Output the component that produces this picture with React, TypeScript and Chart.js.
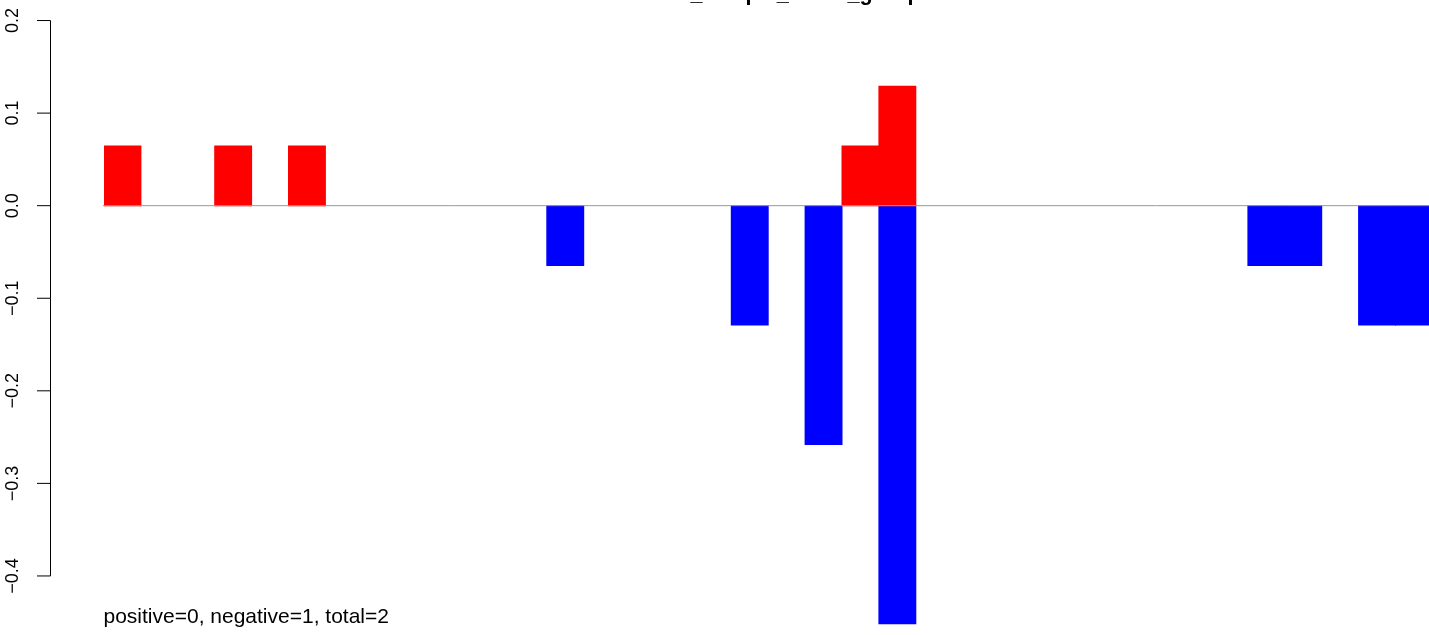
import React, { useEffect, useRef } from "react";
import { Chart, registerables } from "chart.js";

Chart.register(...registerables);

const categories = [
  "1", "2", "3", "4", "5", "6", "7", "8", "9", "10",
  "11", "12", "13", "14", "15", "16", "17", "18", "19", "20",
  "21", "22", "23", "24", "25", "26", "27", "28", "29", "30",
  "31", "32", "33", "34", "35", "36", "37", "38",
];

// null = no bar (value 0)
const positiveValues = [
  0.0645, null, null, 0.0645, null, 0.0645, null, null, null, null,
  null, null, null, null, null, null, null, null, null, null,
  0.0645, 0.129, null, null, null, null, null, null, null, null,
  null, null, null, null, null, null, null, null,
];

const negativeValues = [
  null, null, null, null, null, null, null, null, null, null,
  null, null, -0.0645, null, null, null, null, -0.129, null, -0.258,
  null, -0.4516, null, null, null, null, null, null, null, null,
  null, -0.0645, -0.0645, null, -0.129, -0.129, null, null,
];

const yTickValues = [-0.4, -0.3, -0.2, -0.1, 0, 0.1, 0.2];
const yTickLabels = ["\u22120.4", "\u22120.3", "\u22120.2", "\u22120.1", "0.0", "0.1", "0.2"];

const titleText = "tumor_sample_count_group";
const noteText = "positive=0, negative=1, total=2";

const FONT = "'Liberation Sans', Arial, Helvetica, sans-serif";

const overlayPlugin = {
  id: "rStyleOverlay",
  afterDatasetsDraw(chart: any) {
    const ctx = chart.ctx;
    const xs = chart.scales.x;
    const ys = chart.scales.y;
    ctx.save();
    const y0 = ys.getPixelForValue(0);
    ctx.strokeStyle = "#999999";
    ctx.lineWidth = 1;
    ctx.beginPath();
    ctx.moveTo(xs.left - 1, y0);
    ctx.lineTo(xs.right, y0);
    ctx.stroke();
    ctx.restore();
  },
  afterDraw(chart: any) {
    const ctx = chart.ctx;
    const ys = chart.scales.y;
    ctx.save();
    ctx.strokeStyle = "#000000";
    ctx.lineWidth = 1;
    const axisX = 50.5;
    const top = ys.getPixelForValue(yTickValues[yTickValues.length - 1]);
    const bottom = ys.getPixelForValue(yTickValues[0]);
    ctx.beginPath();
    ctx.moveTo(axisX, top);
    ctx.lineTo(axisX, bottom);
    ctx.stroke();
    ctx.fillStyle = "#000000";
    ctx.font = `18px ${FONT}`;
    ctx.textAlign = "center";
    ctx.textBaseline = "alphabetic";
    yTickValues.forEach((v, i) => {
      const yp = ys.getPixelForValue(v);
      ctx.beginPath();
      ctx.moveTo(37, yp);
      ctx.lineTo(axisX, yp);
      ctx.stroke();
      ctx.save();
      ctx.translate(18, yp);
      ctx.rotate(-Math.PI / 2);
      ctx.fillText(yTickLabels[i], 0, 0);
      ctx.restore();
    });
    ctx.font = `bold 21.6px ${FONT}`;
    ctx.textAlign = "center";
    ctx.fillText(titleText, 775, -0.5);
    ctx.font = `21px ${FONT}`;
    ctx.textAlign = "left";
    ctx.fillText(noteText, 103.5, 623);
    ctx.restore();
  },
};

export default function App() {
  const ref = useRef<HTMLCanvasElement | null>(null);
  useEffect(() => {
    if (!ref.current) return;
    const chart = new Chart(ref.current, {
      type: "bar",
      data: {
        labels: categories,
        datasets: [
          {
            label: "positive",
            data: positiveValues,
            backgroundColor: "#FF0000",
            borderWidth: 0,
            barPercentage: 1,
            categoryPercentage: 1,
            inflateAmount: 0.5,
          },
          {
            label: "negative",
            data: negativeValues,
            backgroundColor: "#0000FF",
            borderWidth: 0,
            barPercentage: 1,
            categoryPercentage: 1,
            inflateAmount: 0.5,
          },
        ],
      },
      options: {
        responsive: false,
        animation: false,
        devicePixelRatio: 1,
        layout: { padding: { left: 104, right: 13.8, top: 2.03, bottom: 3.5 } },
        plugins: {
          legend: { display: false },
          tooltip: { enabled: false },
          title: { display: false },
        },
        scales: {
          x: { display: false, stacked: true, grid: { display: false } },
          y: { display: false, stacked: true, min: -0.46, max: 0.22, grid: { display: false } },
        },
      },
      plugins: [overlayPlugin],
    });
    return () => chart.destroy();
  }, []);
  return (
    <div
      style={{
        position: "fixed",
        left: 0,
        top: 0,
        width: 1429,
        height: 635,
        overflow: "hidden",
        background: "#FFFFFF",
      }}
    >
      <canvas ref={ref} width={1520} height={635} style={{ width: 1520, height: 635, display: "block" }} />
    </div>
  );
}
